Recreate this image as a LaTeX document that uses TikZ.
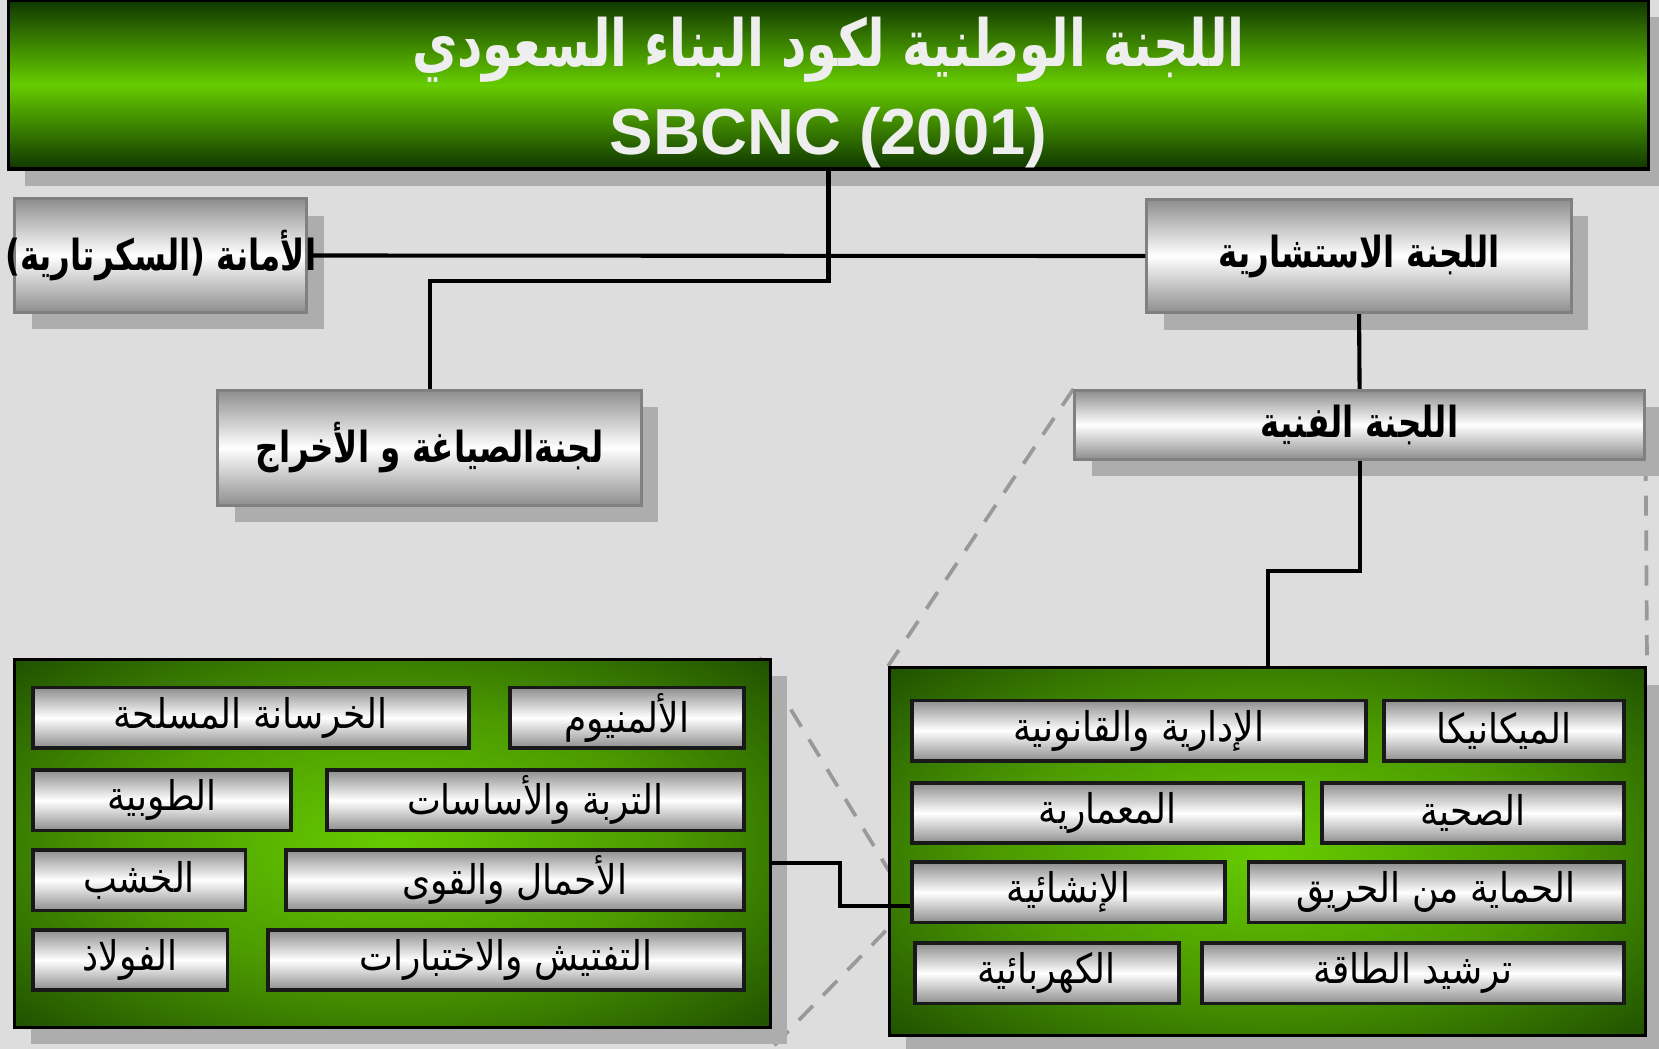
\documentclass[tikz,border=0pt]{standalone}
\usepackage{graphicx}
\usepackage{fontspec}
\setmainfont{Liberation Sans}
\newfontfamily\arabicfont[Script=Arabic]{DejaVu Sans}
\TeXXeTstate=1
\usetikzlibrary{shadows}

\newcommand{\artxt}[1]{\scalebox{0.88}[1]{\arabicfont\beginR #1\endR}}
\newcommand{\headtxt}[1]{\scalebox{0.76}[1]{\arabicfont\beginR #1\endR}}

\definecolor{bggray}{HTML}{DDDDDD}
\definecolor{shadegray}{HTML}{ADADAD}
\definecolor{darkgreen}{HTML}{0F3600}
\definecolor{brightgreen}{HTML}{66CC00}
\definecolor{midgreen}{HTML}{4C9A00}
\definecolor{metaledge}{HTML}{8E8E8E}
\definecolor{dashgray}{HTML}{999999}
\definecolor{titlewhite}{HTML}{EEEEEE}

\pgfdeclarelayer{back}
\pgfdeclarelayer{behind}
\pgfsetlayers{back,behind,main}

\pgfdeclareradialshading{panelglow}{\pgfpointorigin}{color(0bp)=(brightgreen); color(18bp)=(midgreen); color(42bp)=(darkgreen); color(50bp)=(darkgreen)}

\tikzset{
  boxshadow/.style={general shadow={fill=shadegray, shadow xshift=0.16cm, shadow yshift=-0.16cm}},
  headbox/.style={rectangle, draw=black, line width=1pt, inner sep=0pt,
    top color=darkgreen, bottom color=darkgreen, middle color=brightgreen,
    minimum width=15.5cm, minimum height=1.6cm, boxshadow},
  metal/.style={rectangle, draw=gray, line width=0.8pt, inner sep=0pt, boxshadow,
    top color=metaledge, bottom color=metaledge, middle color=white,
    font=\bfseries\fontsize{11.5}{14}\selectfont},
  panel/.style={rectangle, draw=black, line width=0.8pt, shading=panelglow,
    minimum width=7.145cm, minimum height=3.48cm, boxshadow},
  item/.style={rectangle, draw=black!90, line width=1pt, inner sep=0pt, minimum height=0.57cm,
    top color=metaledge, bottom color=metaledge, middle color=white,
    font=\fontsize{11}{13}\selectfont},
  conn/.style={line width=1.1pt},
  zoomline/.style={dashgray, line width=1pt, dash pattern=on 0.19cm off 0.14cm},
}

\begin{document}
\begin{tikzpicture}
    \begin{pgfonlayer}{back}
        \fill[bggray] (0,0) rectangle (15.68,9.91);
    \end{pgfonlayer}
    \useasboundingbox (0,0) rectangle (15.68,9.91);

    % top of the chart
    \node[headbox] (title) at (7.83,9.11) {};
    \node[text=titlewhite, font=\bfseries\fontsize{17.5}{20}\selectfont, align=center] (titletext) at (7.83,9.035)
        {\headtxt{اللجنة الوطنية لكود البناء السعودي}\\[3.5pt] SBCNC (2001)};
    \node[metal, minimum width=2.76cm, minimum height=1.07cm] (sec) at (1.52,7.495) {\makebox[0pt]{\headtxt{الأمانة (السكرتارية)}}};
    \node[metal, minimum width=4.01cm, minimum height=1.07cm] (adv) at (12.845,7.49) {\headtxt{اللجنة الاستشارية}};
    \node[metal, minimum width=4.00cm, minimum height=1.09cm] (draft) at (4.06,5.677) {\headtxt{لجنةالصياغة و الأخراج}};
    \node[metal, minimum width=5.38cm, minimum height=0.65cm] (tech) at (12.85,5.895) {\headtxt{اللجنة الفنية}};

    % the two panels
    \node[panel] (lgrp) at (3.71,1.94) {};
    \node[panel] (rgrp) at (11.98,1.86) {};

    \node[item, minimum width=4.12cm] (khar) at (2.37,3.127) {\artxt{الخرسانة المسلحة}};
    \node[item, minimum width=2.21cm] (alum) at (5.925,3.127) {\artxt{الألمنيوم}};
    \node[item, minimum width=2.44cm] (tub) at (1.53,2.345) {\artxt{الطوبية}};
    \node[item, minimum width=3.94cm] (turba) at (5.06,2.345) {\artxt{التربة والأساسات}};
    \node[item, minimum width=2.01cm] (khash) at (1.315,1.59) {\artxt{الخشب}};
    \node[item, minimum width=4.33cm] (ahmal) at (4.865,1.59) {\artxt{الأحمال والقوى}};
    \node[item, minimum width=1.84cm] (fulad) at (1.23,0.835) {\artxt{الفولاذ}};
    \node[item, minimum width=4.50cm] (taft) at (4.78,0.835) {\artxt{التفتيش والاختبارات}};

    \node[item, minimum width=4.29cm] (idari) at (10.765,3.005) {\artxt{الإدارية والقانونية}};
    \node[item, minimum width=2.27cm] (mech) at (14.215,3.005) {\artxt{الميكانيكا}};
    \node[item, minimum width=3.70cm] (memar) at (10.47,2.225) {\artxt{المعمارية}};
    \node[item, minimum width=2.855cm] (sihh) at (13.92,2.225) {\artxt{الصحية}};
    \node[item, minimum width=2.96cm] (insh) at (10.10,1.475) {\artxt{الإنشائية}};
    \node[item, minimum width=3.55cm] (fire) at (13.575,1.475) {\artxt{الحماية من الحريق}};
    \node[item, minimum width=2.495cm] (kahr) at (9.8925,0.71) {\artxt{الكهربائية}};
    \node[item, minimum width=3.99cm] (tarsh) at (13.355,0.71) {\artxt{ترشيد الطاقة}};

    % lines
    \coordinate (hook) at ([yshift=-0.125cm]insh.west);
    \draw[conn] (title.south) -- ++(0,-1.04) -| (draft.north);
    \draw[conn] (sec.east) -- (adv.west);
    \draw[conn] (adv.south) -- (tech.north);
    \draw[conn] (tech.south) -- ++(0,-1.04) -| (rgrp.north);
    \draw[conn] ([yshift=-0.19cm]lgrp.east) -- ++(0.64,0) |- (hook);

    \begin{pgfonlayer}{behind}
        \draw[zoomline] (tech.north west) -- (rgrp.north west);
        \draw[zoomline] (tech.south east) -- (rgrp.north east);
        \draw[zoomline] (hook) -- ([xshift=-0.12cm]lgrp.north east);
        \draw[zoomline] (hook) -- ([xshift=-0.02cm,yshift=-0.2cm]lgrp.south east);
    \end{pgfonlayer}

\end{tikzpicture}
\end{document}
